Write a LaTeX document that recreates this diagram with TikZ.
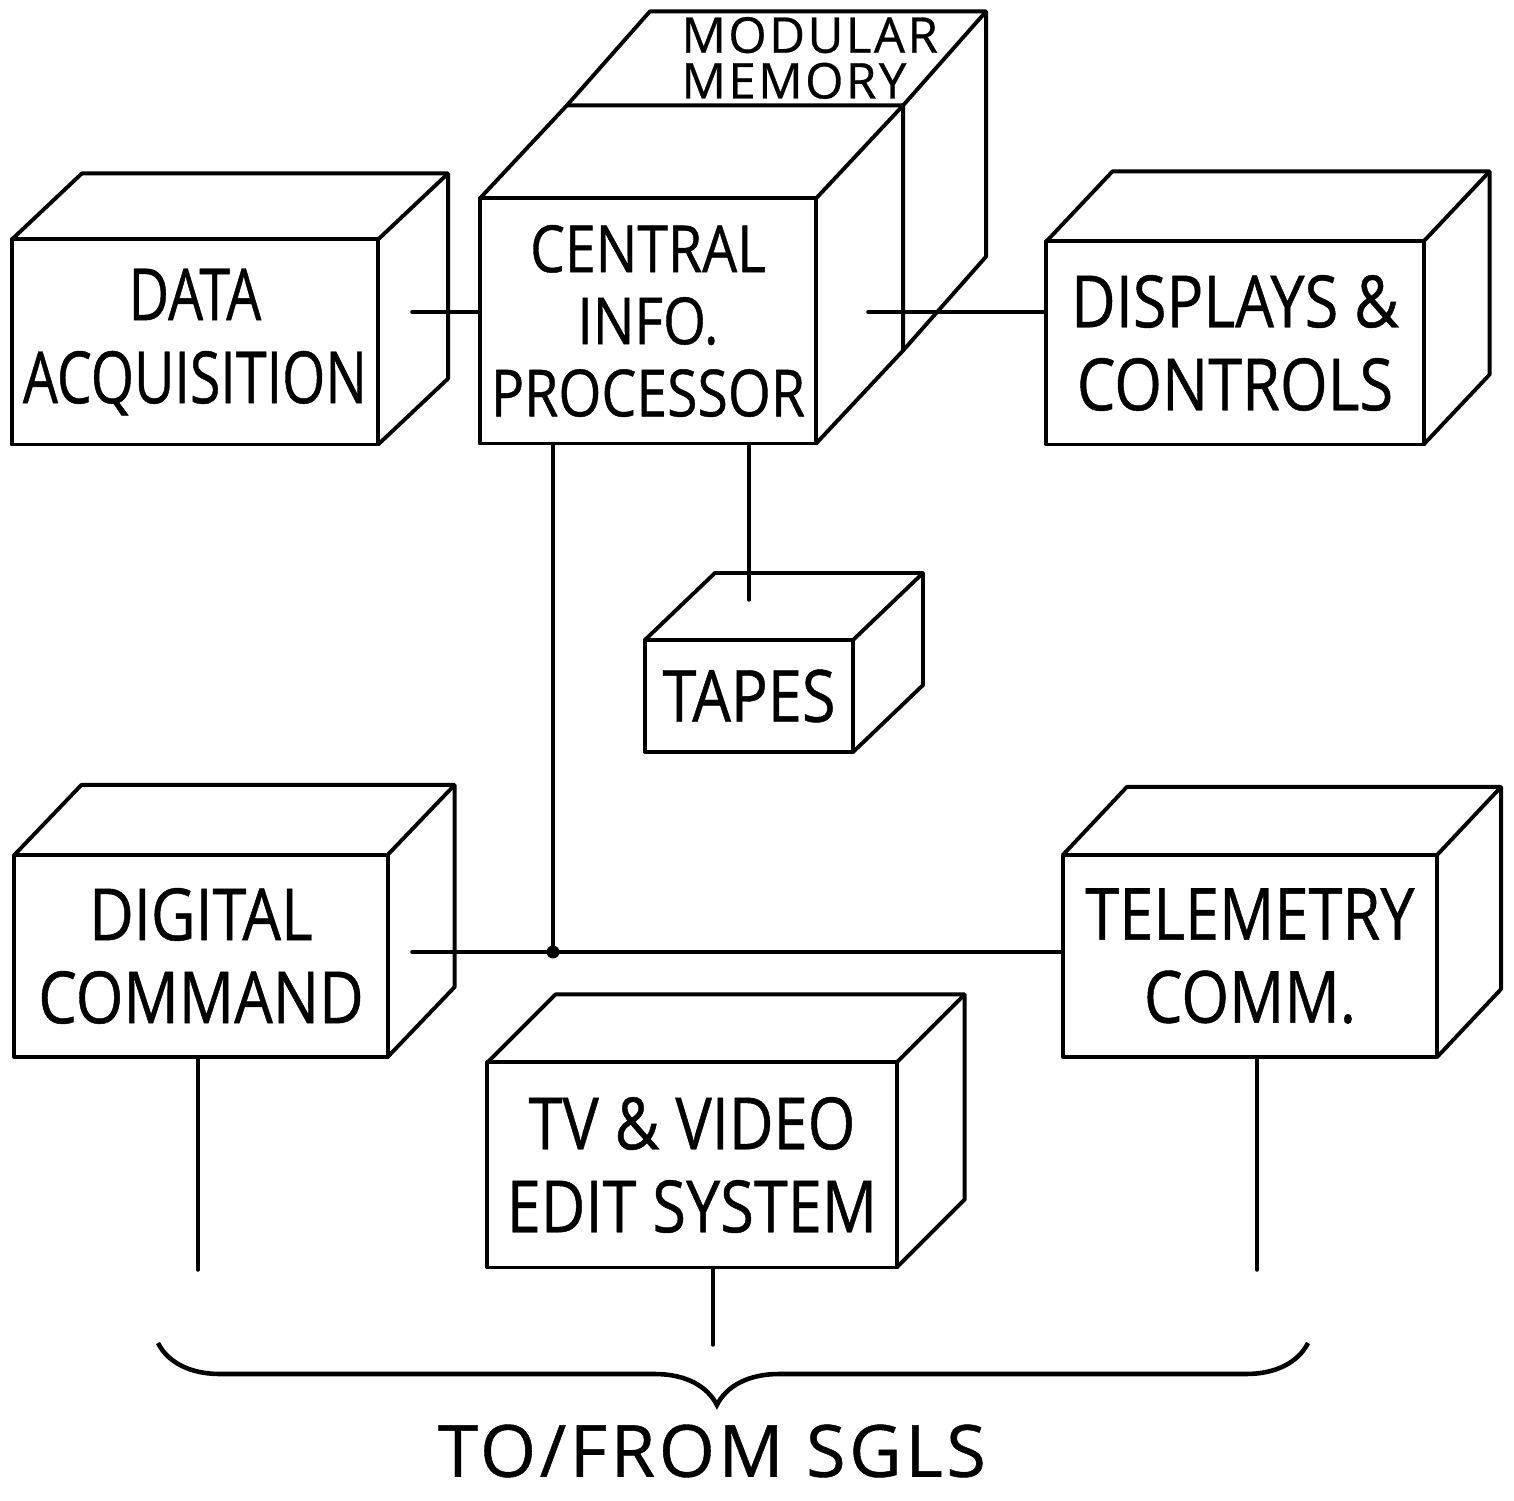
\documentclass[tikz,border=0pt]{standalone}
\usepackage{fontspec}
\newfontfamily\lettering[FakeStretch=0.85, FakeBold=0.6]{Open Sans}
\newfontfamily\narrowlettering[FakeStretch=0.77, FakeBold=0.6]{Open Sans}
\newfontfamily\signfont[LetterSpace=5, FakeBold=0.6]{Open Sans}
\usepackage{tikz}
\usetikzlibrary{calc}
\usetikzlibrary{decorations.pathreplacing}
\tikzset{every picture/.style={line width=1pt}}
\tikzset{
  unit/.style={draw, line width=1.1pt, line join=round, inner sep=0pt, outer sep=0pt,
    align=center, font=\lettering\fontsize{20.5}{23.6}\selectfont},
  edge/.style={line width=1.1pt, line join=round},
  wire/.style={line width=1pt, line cap=round},
  sglsbrace/.style={decorate, decoration={brace, mirror, amplitude=0.62cm, aspect=0.486},
    line width=1.3pt},
}
% top and right faces of a unit: node, depth x, depth y
\newcommand{\boxsides}[3]{%
  \draw [edge] (#1.north west) -- ++(#2,#3) -- ($(#1.north east)+(#2,#3)$)
    -- ($(#1.south east)+(#2,#3)$) -- (#1.south east);
  \draw [edge] (#1.north east) -- ++(#2,#3);
}

\begin{document}
\begin{tikzpicture}[x=0.01cm, y=-0.01cm]
\useasboundingbox (0,0) rectangle (1514,1501);
% top row
\node [unit, minimum width=3.66cm, minimum height=2.05cm,
  font=\narrowlettering\fontsize{20.5}{23.6}\selectfont] (da) at (195,342) {DATA\\ACQUISITION};
\node [unit, minimum width=3.36cm, minimum height=2.45cm,
  font=\lettering\fontsize{18.5}{20.5}\selectfont] (cip) at (648,321) {CENTRAL\\INFO.\\PROCESSOR};
\node [unit, minimum width=3.77cm, minimum height=2.03cm] (dc) at (1235,343) {DISPLAYS \&\\CONTROLS};
\boxsides{da}{70}{-66}
\boxsides{cip}{87}{-93}
\boxsides{dc}{66}{-70}
%
% memory sits behind the processor
\node [minimum width=3.36cm, minimum height=2.45cm, inner sep=0pt, outer sep=0pt] (mem) at (735,228) {};
\boxsides{mem}{83}{-94}
\node [anchor=west, align=left, font=\signfont\fontsize{14}{13}\selectfont] (memtext) at (668,58) {MODULAR\\MEMORY};
%
\node [unit, minimum width=2.08cm, minimum height=1.12cm] (tp) at (749,696) {TAPES};
\boxsides{tp}{70}{-67}
%
% bottom row
\node [unit, minimum width=3.73cm, minimum height=2.02cm] (dcmd) at (201,956) {DIGITAL\\COMMAND};
\node [unit, minimum width=3.74cm, minimum height=2.02cm] (tm) at (1250,956) {TELEMETRY\\COMM.};
\node [unit, minimum width=4.09cm, minimum height=2.05cm] (tv) at (692,1165) {TV \& VIDEO\\EDIT SYSTEM};
\boxsides{dcmd}{67}{-70}
\boxsides{tm}{64}{-68}
\boxsides{tv}{68}{-68}
%
% connectors
\coordinate (da-out) at (412,312);
\coordinate (cip-out) at (868,312);
\coordinate (jn) at (553,952);
\coordinate (tp-in) at (749,600);
\coordinate (dcmd-out) at (412,952);
\draw [wire] (da-out) -- (da-out -| cip.west);
\draw [wire] (cip-out) -- (cip-out -| dc.west);
\draw [wire] (cip.south -| jn) -- (jn);
\draw [wire] (cip.south -| tp-in) -- (tp-in);
\draw [wire] (dcmd-out) -- (dcmd-out -| tm.west);
\fill (jn) circle (0.065cm);
%
\coordinate (dcmd-end) at (198,1270);
\coordinate (tm-end) at (1257,1270);
\coordinate (tv-end) at (713,1345);
\draw [wire] (dcmd.south -| dcmd-end) -- (dcmd-end);
\draw [wire] (tm.south -| tm-end) -- (tm-end);
\draw [wire] (tv.south -| tv-end) -- (tv-end);
%
\coordinate (br-l) at (158,1343);
\coordinate (br-r) at (1308,1343);
\draw [sglsbrace] (br-l) -- (br-r);
\node [font=\signfont\fontsize{20.5}{24}\selectfont] (sgls) at (712,1451) {TO/FROM SGLS};
\end{tikzpicture}
\end{document}
